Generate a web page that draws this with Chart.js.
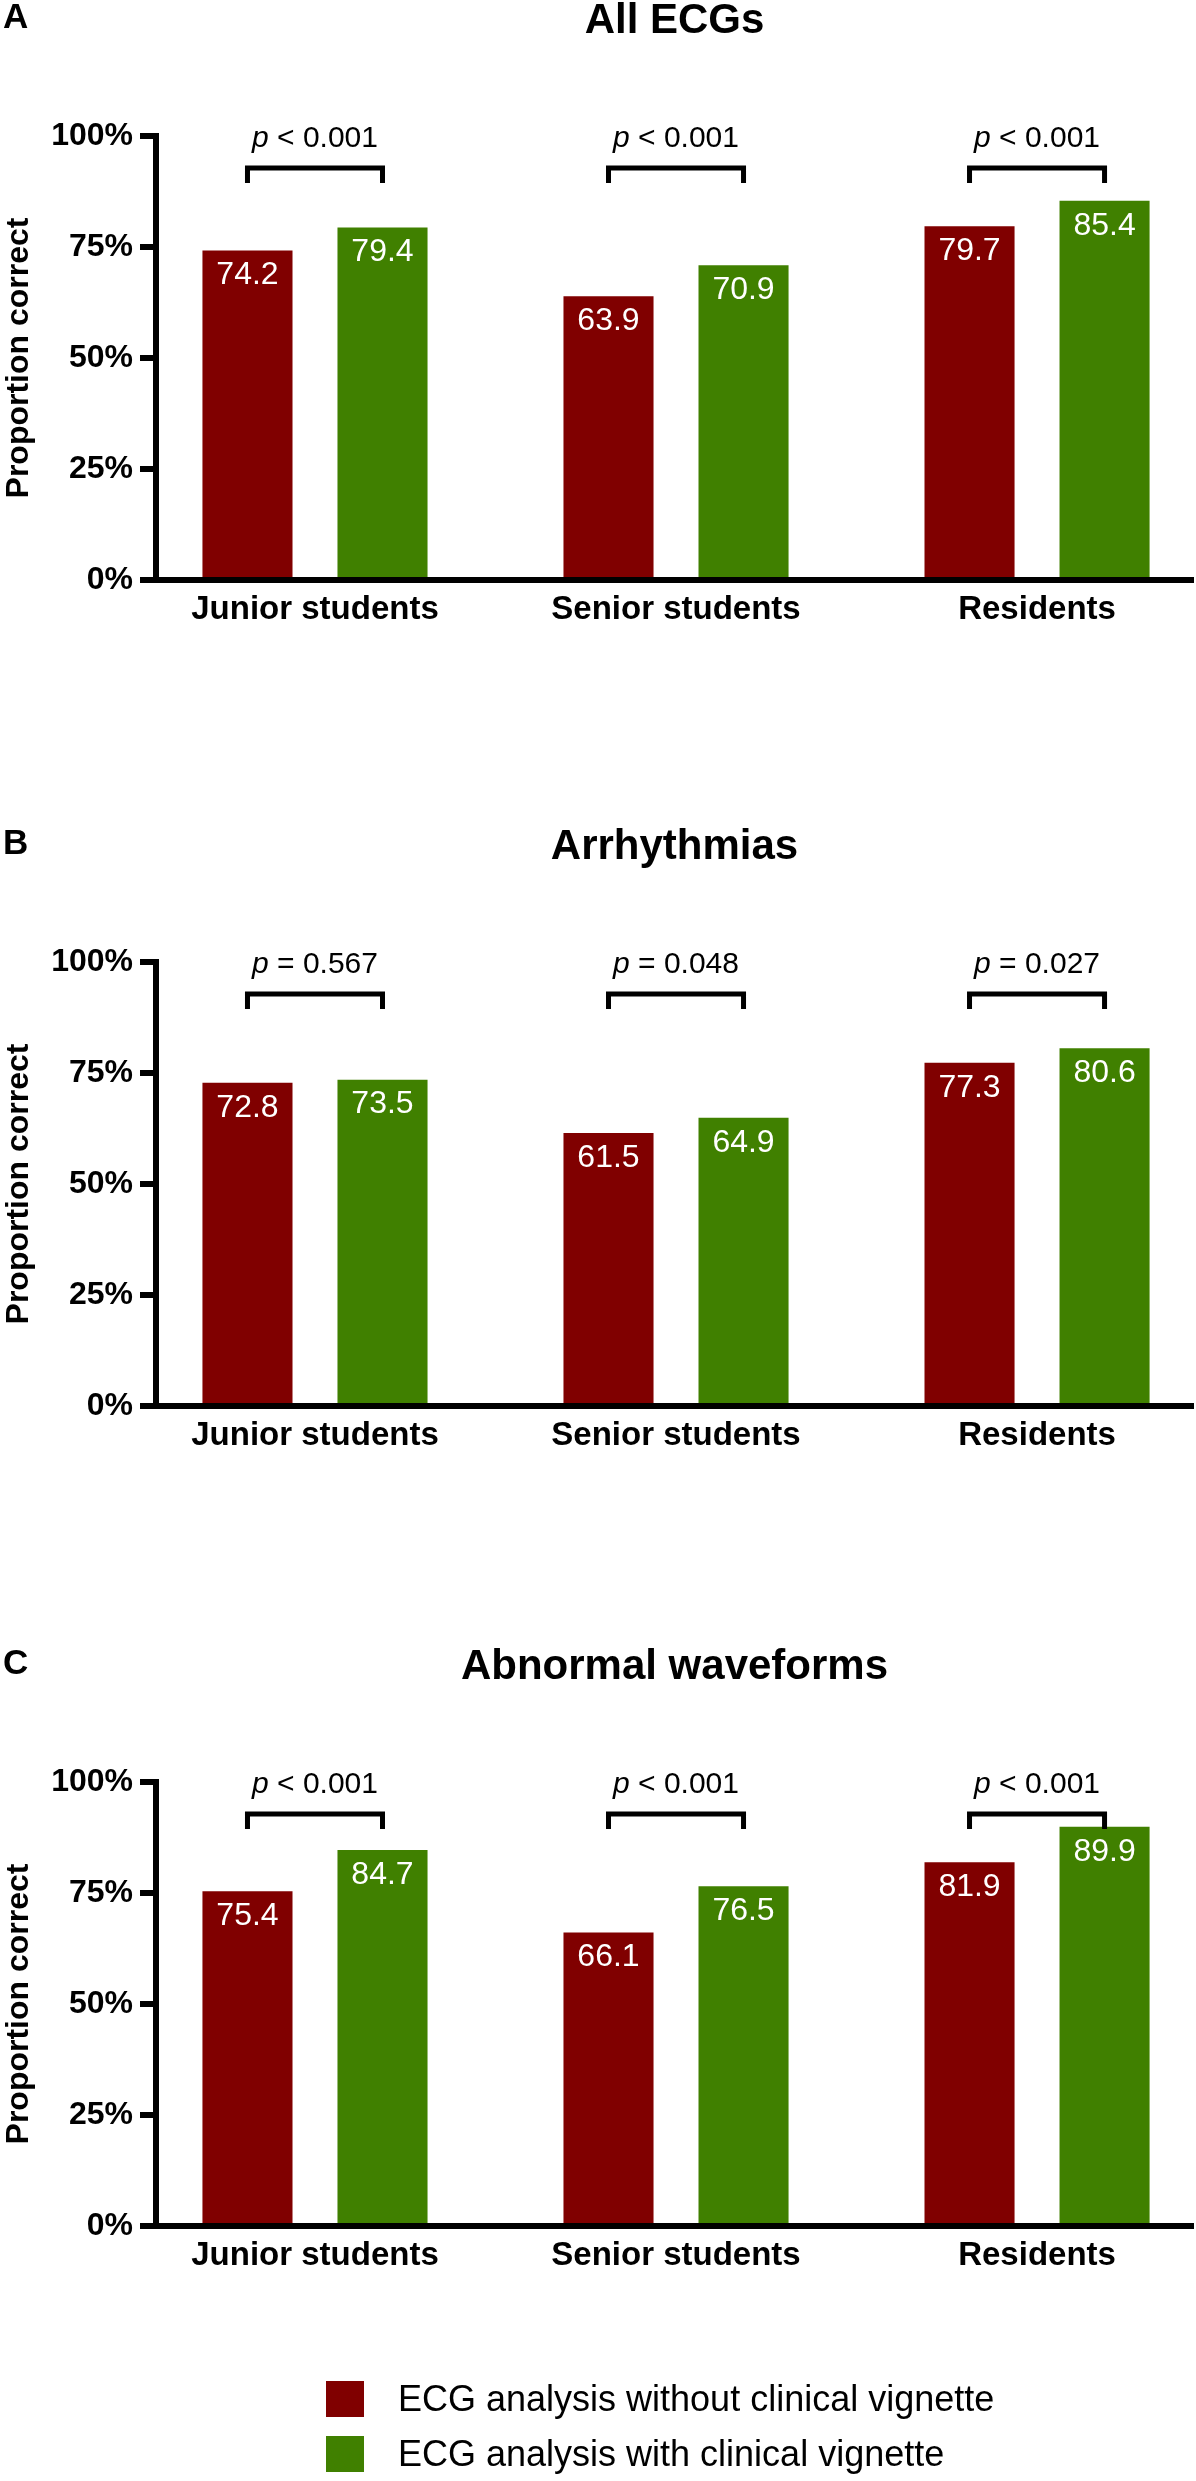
<!DOCTYPE html>
<html>
<head>
<meta charset="utf-8">
<script src="https://cdn.jsdelivr.net/npm/chart.js@4.4.0/dist/chart.umd.min.js"></script>
<style>
  html, body { margin: 0; padding: 0; background: #fff; overflow: hidden; }
  body { width: 1196px; height: 2481px; position: relative; font-family: "Liberation Sans", Arial, sans-serif; }
  canvas { position: absolute; left: 0; }
  .leg { position: absolute; left: 326px; height: 36px; display: flex; align-items: center; font-size: 36px; color: #000; white-space: nowrap; }
  .leg .box { width: 38px; height: 36px; margin-right: 34px; }
</style>
</head>
<body>
<canvas id="chartA" width="1196" height="826" style="top:0px"></canvas>
<canvas id="chartB" width="1196" height="826" style="top:826px"></canvas>
<canvas id="chartC" width="1196" height="826" style="top:1646px"></canvas>
<div id="legend"></div>
<script>
var FONT = '"Liberation Sans", Arial, sans-serif';

// categories and series
var groups = ['Junior students', 'Senior students', 'Residents'];
var seriesNames = ['ECG analysis without clinical vignette', 'ECG analysis with clinical vignette'];
var seriesColors = ['#800000', '#408000'];
var yTicks = [0, 25, 50, 75, 100];

// A - all ECGs
var allWithout = [74.2, 63.9, 79.7];
var allWith = [79.4, 70.9, 85.4];
var allP = ['< 0.001', '< 0.001', '< 0.001'];

// B - arrhythmias
var arrWithout = [72.8, 61.5, 77.3];
var arrWith = [73.5, 64.9, 80.6];
var arrP = ['= 0.567', '= 0.048', '= 0.027'];

// C - abnormal waveforms
var waveWithout = [75.4, 66.1, 81.9];
var waveWith = [84.7, 76.5, 89.9];
var waveP = ['< 0.001', '< 0.001', '< 0.001'];

// letters, titles, value labels, p brackets
var annotate = {
  id: 'annotate',
  afterDraw: function(chart) {
    var o = chart.options.plugins.annotate;
    var ctx = chart.ctx, area = chart.chartArea, y = chart.scales.y;
    ctx.save();
    ctx.fillStyle = '#000';
    ctx.textBaseline = 'alphabetic';
    ctx.textAlign = 'left';
    ctx.font = 'bold 35px ' + FONT;
    ctx.fillText(o.letter, 3, 28);
    ctx.textAlign = 'center';
    ctx.font = 'bold 42px ' + FONT;
    ctx.fillText(o.title, (area.left + area.right) / 2, 33);

    // numbers inside the bars
    ctx.font = '32px ' + FONT;
    ctx.fillStyle = '#fff';
    ctx.textBaseline = 'middle';
    chart.data.datasets.forEach(function(ds, di) {
      chart.getDatasetMeta(di).data.forEach(function(bar, i) {
        ctx.fillText(ds.data[i].y.toFixed(1), bar.x, bar.y + 25);
      });
    });

    // brackets with p values
    var m0 = chart.getDatasetMeta(0).data, m1 = chart.getDatasetMeta(1).data;
    var top = y.getPixelForValue(92.8), leg = y.getPixelForValue(89.4);
    ctx.strokeStyle = '#000';
    ctx.lineWidth = 5;
    ctx.fillStyle = '#000';
    ctx.textBaseline = 'alphabetic';
    ctx.textAlign = 'left';
    o.pValues.forEach(function(p, i) {
      var x0 = m0[i].x, x1 = m1[i].x;
      ctx.beginPath();
      ctx.moveTo(x0, leg);
      ctx.lineTo(x0, top);
      ctx.lineTo(x1, top);
      ctx.lineTo(x1, leg);
      ctx.stroke();
      ctx.font = 'italic 30px ' + FONT;
      var wp = ctx.measureText('p').width;
      ctx.font = '30px ' + FONT;
      var rest = ' ' + p;
      var wr = ctx.measureText(rest).width;
      var sx = (x0 + x1) / 2 - (wp + wr) / 2;
      ctx.font = 'italic 30px ' + FONT;
      ctx.fillText('p', sx, top - 21);
      ctx.font = '30px ' + FONT;
      ctx.fillText(rest, sx + wp, top - 21);
    });
    ctx.restore();
  }
};

function points(vals) {
  return vals.map(function(v, i) { return { x: i, y: v }; });
}

function makePanel(id, letter, title, without, withV, pVals) {
  return new Chart(document.getElementById(id), {
    type: 'bar',
    data: {
      datasets: [
        { label: seriesNames[0], data: points(without), backgroundColor: seriesColors[0],
          categoryPercentage: 0.748, barPercentage: 0.667 },
        { label: seriesNames[1], data: points(withV), backgroundColor: seriesColors[1],
          categoryPercentage: 0.748, barPercentage: 0.667 }
      ]
    },
    options: {
      responsive: false,
      animation: false,
      events: [],
      layout: { padding: { top: 136, right: 3, bottom: 186, left: 0 } },
      plugins: {
        legend: { display: false },
        tooltip: { enabled: false },
        annotate: { letter: letter, title: title, pValues: pVals }
      },
      scales: {
        x: {
          type: 'linear',
          offset: false,
          min: -0.4404,   // leaves room between y axis and first group
          max: 2.432,
          afterBuildTicks: function(s) { s.ticks = groups.map(function(g, i) { return { value: i }; }); },
          afterFit: function(s) { s.height = 60; },
          grid: { display: false, drawTicks: false },
          border: { display: true, width: 6, color: '#000' },
          ticks: {
            callback: function(v) { return groups[v]; },
            font: { family: FONT, size: 33, weight: 'bold' },
            color: '#000', padding: 10, maxRotation: 0, autoSkip: false
          }
        },
        y: {
          min: 0,
          max: 100,
          afterBuildTicks: function(s) { s.ticks = yTicks.map(function(v) { return { value: v }; }); },
          afterFit: function(s) { s.width = 156; },
          grid: { drawOnChartArea: false, drawTicks: true, tickLength: 16, lineWidth: 6, color: '#000' },
          border: { display: true, width: 6, color: '#000' },
          ticks: {
            callback: function(v) { return v + '%'; },
            font: { family: FONT, size: 32, weight: 'bold' },
            color: '#000', padding: 7
          },
          title: {
            display: true, text: 'Proportion correct', color: '#000',
            font: { family: FONT, size: 32, weight: 'bold' }, padding: { top: 0, bottom: 0 }
          }
        }
      }
    },
    plugins: [annotate]
  });
}

makePanel('chartA', 'A', 'All ECGs', allWithout, allWith, allP);
makePanel('chartB', 'B', 'Arrhythmias', arrWithout, arrWith, arrP);
makePanel('chartC', 'C', 'Abnormal waveforms', waveWithout, waveWith, waveP);

// legend under the last panel
var legendTops = [2381, 2436];
var legend = document.getElementById('legend');
seriesNames.forEach(function(name, i) {
  var row = document.createElement('div');
  row.className = 'leg';
  row.style.top = legendTops[i] + 'px';
  var box = document.createElement('span');
  box.className = 'box';
  box.style.background = seriesColors[i];
  row.appendChild(box);
  row.appendChild(document.createTextNode(name));
  legend.appendChild(row);
});
</script>
</body>
</html>
